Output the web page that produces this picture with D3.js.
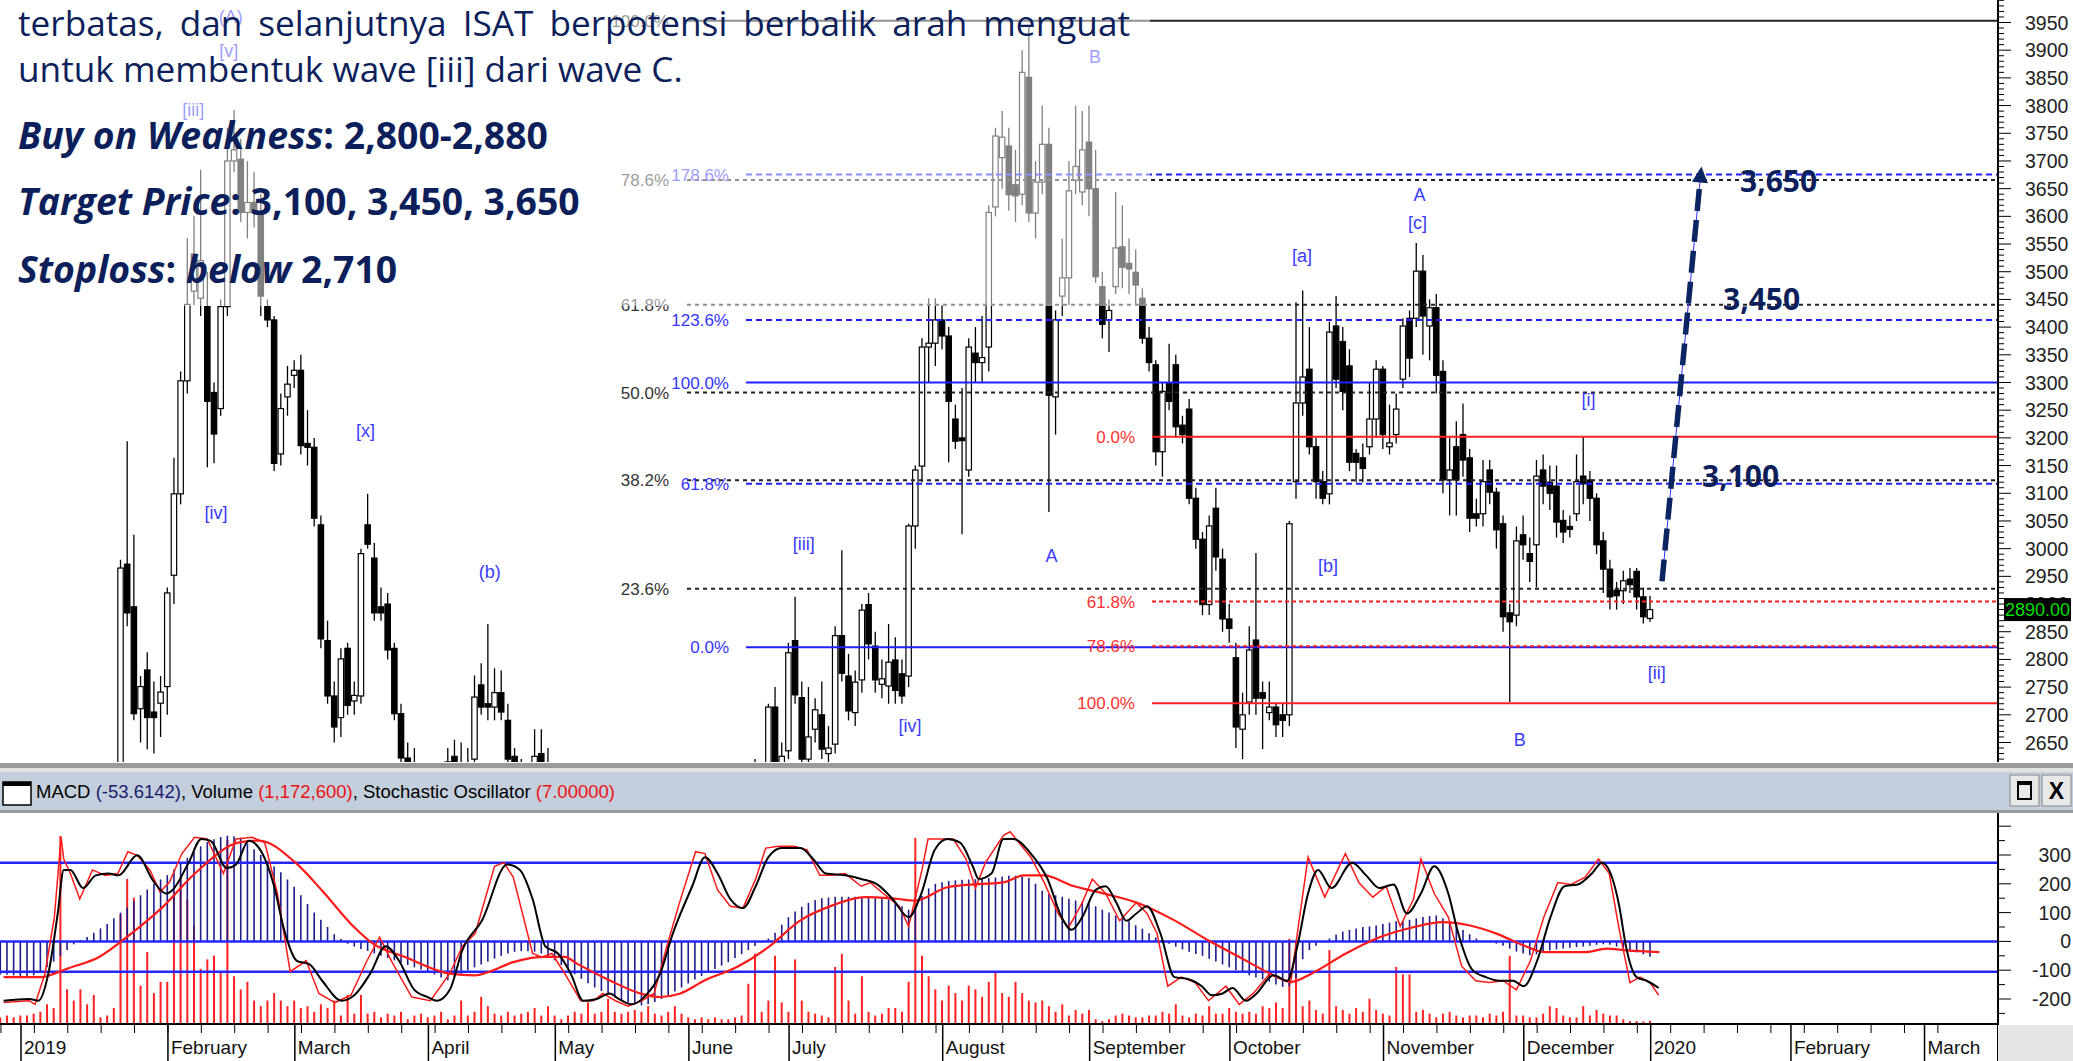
<!DOCTYPE html>
<html>
<head>
<meta charset="utf-8">
<script src="https://cdn.jsdelivr.net/npm/d3@7/dist/d3.min.js"></script>
<style>
  body { margin: 0; background: #fff; overflow: hidden; }
  svg text { font-family: "Liberation Sans", Arial, sans-serif; }
  svg text.note { font-family: "Open Sans", sans-serif; fill: #0c1f5b; }
</style>
</head>
<body>
<svg id="chart" width="2073" height="1061"></svg>
<script>
// ISAT daily, 2019
// [open, high, low, close] per trading day, index 0 = 2 Jan 2019
const ohlc = [
  [1800,1850,1760,1830],[1830,1900,1800,1880],[1880,1960,1850,1940],[1940,2050,1920,2030],[2030,2250,2010,2220],
  [2220,2400,2150,2380],[2380,2420,2250,2300],[2300,2350,2200,2250],[2250,2330,2220,2310],[2310,2400,2280,2380],
  [2380,2450,2320,2360],[2360,2420,2300,2400],[2400,2480,2350,2450],[2450,2520,2400,2480],[2480,2980,2450,2965],
  [2972,3194,2860,2884],[2895,3025,2690,2702],[2711,2770,2650,2751],[2781,2813,2638,2695],[2705,2760,2630,2695],
  [2721,2770,2660,2741],[2751,2930,2700,2920],
  // February
  [2952,3164,2900,3099],[3099,3320,3080,3303],[3303,3561,3280,3441],[3465,3600,3440,3532],[3452,3684,3420,3520],
  [3437,3500,3147,3266],[3282,3300,3154,3207],[3253,3450,3240,3437],[3437,3760,3420,3700],[3700,3792,3680,3720],
  [3703,3740,3590,3607],[3607,3700,3560,3625],[3625,3680,3580,3607],[3607,3640,3420,3456],[3437,3450,3400,3413],
  [3413,3420,3140,3154],[3171,3280,3150,3253],[3274,3330,3240,3297],[3313,3340,3290,3322],
  // March
  [3322,3350,3170,3186],[3190,3250,3150,3183],[3183,3200,3040,3055],[3043,3060,2820,2837],[2834,2870,2720,2734],
  [2734,2760,2650,2678],[2695,2820,2660,2801],[2820,2830,2700,2717],[2725,2760,2700,2735],[2734,3000,2720,2991],
  [3043,3099,3000,3008],[2983,3010,2870,2884],[2895,2930,2870,2884],[2900,2920,2800,2817],[2820,2830,2690,2702],
  [2702,2720,2610,2622],[2622,2650,2560,2580],[2580,2640,2540,2570],[2570,2600,2500,2520],[2520,2560,2470,2500],
  // April
  [2500,2550,2460,2530],[2530,2600,2500,2590],[2590,2640,2560,2615],[2625,2655,2590,2610],[2610,2650,2570,2590],
  [2590,2640,2560,2610],[2620,2771,2600,2732],[2754,2793,2700,2714],[2720,2864,2690,2714],[2714,2784,2690,2740],
  [2740,2780,2690,2705],[2690,2720,2600,2620],[2625,2640,2580,2600],[2600,2620,2550,2570],[2570,2600,2520,2590],
  [2590,2674,2570,2625],[2630,2674,2580,2600],[2600,2640,2540,2560],[2560,2590,2480,2500],
  // May
  [2500,2520,2420,2440],[2440,2470,2380,2400],[2400,2430,2330,2350],[2350,2380,2280,2300],[2300,2330,2240,2260],
  [2260,2300,2200,2220],[2220,2280,2180,2250],[2250,2290,2200,2230],[2230,2250,2150,2170],[2170,2200,2100,2120],
  [2120,2150,2050,2080],[2080,2120,2030,2100],[2100,2160,2080,2140],[2140,2200,2120,2180],[2180,2220,2140,2160],
  [2160,2240,2150,2230],[2230,2300,2200,2280],[2280,2350,2250,2330],[2330,2400,2300,2380],[2380,2420,2340,2360],
  // June
  [2360,2450,2350,2430],[2430,2500,2400,2480],[2480,2520,2420,2450],[2450,2480,2400,2420],[2420,2470,2400,2460],
  [2460,2520,2440,2500],[2500,2560,2470,2540],[2540,2580,2500,2520],[2520,2600,2510,2580],[2580,2620,2540,2560],
  [2560,2610,2530,2590],[2600,2720,2590,2714],[2714,2750,2600,2605],[2610,2650,2590,2625],[2635,2830,2620,2812],
  // July
  [2834,2913,2720,2736],[2731,2760,2600,2620],[2620,2750,2600,2660],[2674,2730,2650,2709],[2700,2760,2620,2638],
  [2630,2680,2610,2640],[2647,2860,2630,2843],[2843,2997,2760,2775],[2770,2810,2690,2707],[2704,2780,2680,2759],
  [2763,2900,2740,2889],[2899,2920,2800,2828],[2824,2850,2740,2763],[2755,2800,2730,2765],[2752,2864,2720,2795],
  [2799,2840,2720,2744],[2774,2800,2720,2734],[2770,3045,2750,3041],[3041,3150,3000,3142],[3149,3380,3120,3364],
  [3364,3452,3300,3371],[3371,3452,3330,3413],[3413,3440,3360,3384],
  // August
  [3384,3400,3156,3266],[3234,3260,3180,3194],[3200,3290,3026,3195],[3142,3380,3130,3364],[3353,3400,3300,3336],
  [3336,3420,3300,3345],[3364,3620,3320,3607],[3617,3760,3600,3745],[3706,3790,3650,3743],[3727,3760,3610,3639],
  [3657,3720,3590,3637],[3640,3900,3620,3860],[3851,3945,3590,3606],[3606,3700,3560,3662],[3662,3800,3640,3730],
  [3730,3760,3066,3277],[3274,3430,3206,3413],[3456,3560,3420,3489],[3489,3700,3440,3646],[3665,3800,3640,3690],
  [3644,3790,3620,3720],[3734,3800,3600,3650],
  // September
  [3650,3720,3480,3491],[3473,3500,3380,3405],[3413,3450,3355,3430],[3473,3644,3460,3543],[3545,3620,3470,3508],
  [3515,3560,3460,3505],[3499,3540,3440,3476],[3452,3470,3370,3380],[3380,3400,3320,3336],[3332,3340,3150,3175],
  [3175,3300,3130,3284],[3299,3370,3250,3266],[3332,3350,3200,3220],[3223,3240,3190,3206],[3252,3270,3080,3091],
  [3091,3110,3000,3017],[3017,3030,2880,2899],[2899,3060,2880,3041],[3073,3110,2960,2985],[2981,3000,2850,2873],
  [2873,2900,2830,2856],
  // October
  [2803,2830,2640,2678],[2674,2740,2620,2700],[2723,2860,2700,2817],[2835,2992,2700,2730],[2740,2760,2638,2730],
  [2704,2760,2690,2714],[2714,2720,2660,2682],[2700,2720,2660,2690],[2700,3050,2680,3045],[3121,3445,3090,3263],
  [3263,3466,3240,3310],[3324,3400,3170,3184],[3184,3200,3090,3121],[3121,3140,3080,3091],[3099,3410,3080,3391],
  [3402,3456,3290,3306],[3374,3400,3250,3284],[3330,3360,3140,3156],[3172,3180,3120,3156],[3164,3190,3120,3145],
  [3184,3300,3170,3234],[3234,3340,3200,3324],[3324,3330,3180,3206],
  // November
  [3184,3260,3170,3191],[3206,3280,3190,3252],[3306,3416,3290,3402],[3416,3430,3310,3344],[3416,3552,3400,3501],
  [3501,3530,3350,3420],[3402,3450,3340,3435],[3435,3460,3280,3313],[3320,3340,3100,3124],[3124,3200,3060,3142],
  [3184,3230,3060,3124],[3206,3262,3130,3160],[3164,3180,3030,3055],[3063,3090,3040,3055],[3063,3160,3040,3121],
  [3142,3160,3080,3102],[3102,3110,3000,3034],[3045,3060,2850,2877],[2884,2900,2723,2868],[2880,3040,2860,3014],
  [3025,3060,2980,3007],
  // December
  [2991,3020,2940,2977],[3007,3160,2930,3131],[3142,3170,3080,3113],[3120,3150,3070,3100],[3113,3150,3020,3048],
  [3051,3070,3010,3030],[3040,3060,3020,3035],[3063,3170,3050,3121],[3131,3202,3080,3117],[3124,3140,3050,3091],
  [3091,3100,2990,3007],[3014,3030,2920,2963],[2963,2980,2890,2913],[2925,2940,2890,2915],[2924,2960,2900,2942],
  [2945,2965,2920,2935],[2959,2965,2890,2913],[2913,2930,2865,2877],[2874,2915,2868,2890]
];

// indicator panel, one value per bar starting at index histStart
const histStart = -4;
const macdHist = [
  -115,-116,-118,-120,
  -120,-118,-110,-90,-70,-50,-30,-10,5,15,
  30,45,60,80,100,118,140,160,180,200,
  215,230,250,270,290,310,330,345,355,362,
  367,365,360,340,320,300,280,260,240,215,
  190,160,130,100,75,50,25,8,-8,-18,
  -26,-33,-42,-50,-58,-66,-74,-82,-90,-98,
  -106,-115,-125,-135,-125,-112,-100,-90,-80,-70,
  -60,-50,-42,-36,-34,-34,-36,-42,-52,-66,
  -82,-98,-114,-130,-145,-160,-172,-184,-195,-205,
  -212,-218,-222,-218,-210,-200,-188,-174,-160,-146,
  -132,-120,-108,-96,-84,-72,-58,-44,-30,-16,
  -4,10,30,58,84,104,120,134,144,150,
  152,155,155,155,155,154,152,150,150,146,
  138,122,110,122,158,184,200,205,210,212,
  214,215,216,218,220,222,225,228,228,225,
  220,200,176,165,160,155,148,142,138,134,
  122,110,100,90,80,70,56,44,28,14,
  4,-8,-18,-28,-36,-44,-50,-60,-70,-80,
  -90,-100,-110,-118,-125,-132,-140,-150,-158,-156,
  -128,-62,-30,-15,-5,10,24,34,40,45,
  50,52,55,60,65,70,72,75,80,85,
  88,90,80,70,55,40,25,10,2,-3,
  -8,-15,-25,-35,-42,-48,-45,-38,-32,-28,
  -25,-22,-20,-18,-15,-12,-10,-12,-18,-25,
  -32,-38,-45,-53.6
];
// volume in millions of shares
const volume = [
  3,4,3,4,
  4,5,6,10,8,100,18,12,18,10,
  15,3,4,8,58,77,67,20,38,16,
  22,22,70,78,66,52,29,34,36,27,
  98,25,18,22,12,9,12,16,12,9,
  12,8,9,6,10,8,12,4,15,5,
  15,5,6,3,5,4,6,2,4,5,
  3,4,6,2,4,12,4,6,14,9,
  5,4,6,4,5,6,8,4,9,4,
  2,4,6,5,11,5,6,13,6,5,
  6,7,6,9,5,4,6,9,5,3,
  2,3,2,3,2,2,3,4,21,37,
  6,12,36,11,6,34,12,6,5,4,
  3,30,37,12,5,25,6,4,5,8,
  8,6,22,99,36,25,18,12,20,16,
  12,20,18,14,22,27,16,14,22,16,
  12,11,12,9,6,10,4,7,5,7,
  2,1,2,4,5,4,3,3,4,4,
  6,5,10,4,3,5,4,9,5,5,
  8,6,5,6,5,9,8,11,8,45,
  40,9,12,7,5,39,9,7,5,8,
  6,13,7,5,4,30,26,26,6,7,
  5,3,5,6,4,3,4,4,3,5,
  4,6,36,4,4,3,3,5,9,8,
  4,3,3,9,4,7,5,4,4,2,
  1,1,0.8,1.17
];
// [bar index, value]
const macdSignal = [[-3.5,-124],[2.2,-124],[4.1,-112],[6,-95],[10.8,-54],[15.6,27],[20.3,119],[25.1,235],[31.8,344],[34.7,350],
  [40.4,269],[44.2,176],[49,49],[51.8,-8],[56.6,-54],[63.3,-112],[67.1,-118],[69,-107],[72.8,-72],[77.6,-54],[80.5,-54],
  [82.4,-78],[87.2,-135],[92,-182],[94.8,-193],[97.7,-182],[101.5,-135],[106.3,-89],[111,-20],[115.8,73],[120.6,125],
  [125.4,154],[130.1,148],[133,142],[137.8,188],[142.5,199],[146.2,205],[149.2,229],[152.3,229],[156.4,194],[161.5,165],
  [166.6,131],[171.8,73],[176.9,3],[182,-60],[187.2,-124],[189.2,-141],[192.3,-112],[197.4,-43],[202.6,15],[207.7,50],
  [211.8,67],[215.9,56],[220,27],[224.1,-14],[227.2,-37],[233.4,-37],[236.5,-25],[239.5,-31],[244.4,-37]];
const stochK = [[-3.5,4],[0.3,5],[1.7,4],[3.2,19],[4.6,52],[5.5,76],[6.5,76],[8.4,66],[10.3,73],[12.2,74],[13.7,73],[16.5,84],
  [18.9,70],[20.8,63],[21.8,65],[24.2,80],[26.1,93],[27.5,92],[29.9,77],[31.3,79],[33.2,92],[35.1,86],[37,67],[38.5,43],
  [40.4,26],[42.3,24],[44.2,15],[47.1,4],[49,7],[51.4,19],[53.7,34],[55.7,26],[58,10],[60,6],[61.4,4],[63.3,10],[65.2,32],
  [68.1,48],[71.9,79],[73.8,76],[75.7,60],[77.6,34],[79.5,30],[81.4,19],[83.3,4],[85.3,5],[87.2,8],[88.6,5],[90.5,2],
  [92.4,6],[94.8,19],[96.7,41],[99.6,67],[101.5,83],[103.4,74],[105.3,60],[107.2,55],[109.1,67],[111,83],[113,88],
  [115.8,88],[117.7,82],[119.6,74],[122.5,73],[124.9,71],[127.3,68],[129.6,60],[132,50],[133.9,63],[135.9,87],[137.8,93],
  [139.7,91],[141.6,78],[142.5,71],[144.4,74],[146.2,93],[147.7,93],[150.3,85],[152.8,71],[154.9,50],[156.4,43],[158,50],
  [160,65],[161.5,67],[163.1,58],[164.6,48],[166.1,52],[167.7,56],[169.7,41],[171.8,17],[173.8,16],[175.9,12],[177.4,7],
  [179,8],[180.5,11],[182.5,4],[184.1,8],[186.6,18],[188.7,15],[190.2,34],[191.8,63],[193.3,76],[195.3,66],[198.4,80],
  [200.5,73],[202.5,66],[204.6,68],[206.6,52],[208.7,63],[210.7,78],[212.8,63],[214.3,41],[216.4,21],[218.4,17],
  [220.5,15],[222.5,15],[224.1,12],[226.1,26],[228.1,50],[230.2,67],[232.2,68],[234.3,74],[235.8,80],[237.4,71],
  [238.4,56],[239.4,34],[241,17],[242.5,15],[244.3,11]];
const stochD = [[-3.5,3],[0.3,4],[1.2,2],[2.7,19],[4.1,50],[5.1,94],[5.5,82],[6.5,74],[7.9,60],[9.8,76],[11.7,73],[13.6,74],
  [15.1,86],[16.5,84],[18.4,76],[19.9,64],[21.3,69],[23.2,85],[25.1,94],[27,93],[29.4,74],[31.3,93],[33.7,94],[35.6,91],
  [37.5,63],[39.4,20],[41.8,26],[43.7,8],[46.1,3],[48.5,7],[50.9,26],[52.8,39],[54.7,25],[57.6,6],[60.4,4],[63.3,19],
  [65.2,34],[67.1,41],[70,78],[71.4,80],[72.8,72],[75.7,30],[77.1,28],[78.6,30],[80.5,19],[82.9,4],[84.8,4],[86.2,8],
  [88.1,4],[90,1],[92,4],[93.9,8],[95.8,34],[97.7,58],[100.1,86],[101.5,85],[103.4,65],[105.3,56],[107.2,55],[109.1,71],
  [110.6,88],[112.5,89],[114.9,89],[116.8,87],[118.7,73],[120.6,73],[122.5,74],[124.9,67],[126.3,69],[128.2,63],
  [130.6,56],[132,45],[134,76],[134.9,93],[136.8,93],[138.7,93],[140.6,82],[142,66],[143.5,80],[146.2,95],[147.2,97],
  [150.3,83],[152.3,69],[154.4,52],[155.9,44],[158,58],[159.5,71],[161.5,63],[163.6,48],[166.1,58],[167.7,52],[169.2,41],
  [170.8,12],[172.8,17],[174.9,14],[176.9,4],[179.5,12],[181.5,2],[183.6,8],[186.1,19],[189.2,14],[190.2,41],[191.8,83],
  [194.3,61],[197.4,85],[199.4,69],[201.5,61],[203.5,67],[205.6,45],[207.6,60],[208.7,82],[210.7,63],[212.8,50],
  [214.8,23],[216.9,15],[218.9,14],[221,15],[223,10],[225.1,26],[227.1,50],[229.2,69],[231.2,68],[233.3,72],[235.3,82],
  [236.9,74],[238.4,43],[240,14],[241.5,17],[243,14],[244.3,7]];

// axis labels
const monthTicks = [[0,"2019"],[22,"February"],[41,"March"],[61,"April"],[80,"May"],[100,"June"],[115,"July"],
  [138,"August"],[160,"September"],[181,"October"],[204,"November"],[225,"December"],[244,"2020"],[265,"February"],[285,"March"]];
const priceTicks = d3.range(2650, 3951, 50);
const indTicks = [300, 200, 100, 0, -100, -200];

// fibonacci sets: [price at 0%, price at 100%], levels drawn
const blackFib = [2611, 3953], blackLevels = [23.6, 38.2, 50.0, 61.8, 78.6, 100.0];
const blueFib = [2822, 3300], blueLevels = [0.0, 61.8, 100.0, 123.6, 178.6];
const redFib = [3202, 2721], redLevels = [0.0, 61.8, 78.6, 100.0];

// wave counts: [text, bar index, price]
const waves = [["(A)",30.5,3960],["[v]",30.2,3900],["[iii]",24.9,3792],["[iv]",28.3,3066],["[x]",50.7,3214],
  ["(b)",69.3,2958],["[iii]",116.3,3010],["[iv]",132.2,2681],["A",153.4,2987],["B",159.9,3888],["[a]",190.9,3530],
  ["A",208.5,3639],["[c]",208.2,3588],["[b]",194.8,2970],["[i]",233.8,3270],["[ii]",244,2777],["B",223.5,2656]];

const lastClose = 2890.00;
const targets = ["3,100", "3,450", "3,650"];
const arrowFrom = [244.8, 2941], arrowTo = [250.7, 3690];

// ---------------- drawing ----------------
const svg = d3.select("#chart");
const plotR = 1998, mainB = 762;

const x = d3.scaleLinear().domain([0, 243]).range([27, 1650]);
const y = d3.scaleLinear().domain([2650, 3950]).range([742.5, 22.5]);
const yM = d3.scaleLinear().domain([-200, 300]).range([999, 855]);
const yS = d3.scaleLinear().domain([0, 100]).range([1008, 826.3]);
const yV = d3.scaleLinear().domain([0, 100]).range([1023, 836]);

svg.append("rect").attr("width", 2073).attr("height", 1061).attr("fill", "#fff");
const defs = svg.append("defs");
defs.append("clipPath").attr("id", "clipMain").append("rect").attr("width", plotR).attr("height", mainB);
defs.append("clipPath").attr("id", "clipInd").append("rect").attr("y", 813).attr("width", plotR).attr("height", 210);

const main = svg.append("g").attr("clip-path", "url(#clipMain)");

// candles
const cg = main.append("g").selectAll("g").data(ohlc).join("g");
cg.append("line")
  .attr("x1", (d, i) => x(i)).attr("x2", (d, i) => x(i))
  .attr("y1", d => y(d[1])).attr("y2", d => y(d[2]))
  .attr("stroke", "#000").attr("stroke-width", 1.3);
cg.append("rect")
  .attr("x", (d, i) => x(i) - 2.7).attr("width", 5.4)
  .attr("y", d => y(Math.max(d[0], d[3])))
  .attr("height", d => Math.max(1, Math.abs(y(d[0]) - y(d[3]))))
  .attr("fill", d => d[3] >= d[0] ? "#fff" : "#000")
  .attr("stroke", "#000").attr("stroke-width", 1.2);

// fib retracements
function fib(range, levels, xStart, xLabel, lineColor, textColor, dash) {
  const g = main.append("g");
  levels.forEach(l => {
    const p = range[0] + (range[1] - range[0]) * l / 100;
    const solid = l === 0 || l === 100;
    g.append("line").attr("x1", xStart).attr("x2", plotR).attr("y1", y(p)).attr("y2", y(p))
      .attr("stroke", lineColor).attr("stroke-width", 2)
      .attr("stroke-dasharray", solid ? null : dash);
    g.append("text").attr("x", xLabel).attr("y", y(p)).attr("dy", "0.36em")
      .attr("text-anchor", "end").attr("font-size", 17).attr("fill", textColor)
      .text(l.toFixed(1) + "%");
  });
}
fib(blackFib, blackLevels, 687, 669, "#222", "#333", "4,4");
fib(blueFib, blueLevels, 746, 729, "#1f1fff", "#3535ff", "6,4");
fib(redFib, redLevels, 1152, 1135, "#ff2020", "#ff3030", "4,3");

// wave labels
main.append("g").selectAll("text").data(waves).join("text")
  .attr("x", d => x(d[1])).attr("y", d => y(d[2])).attr("dy", "0.36em")
  .attr("text-anchor", "middle").attr("font-size", 18).attr("fill", "#3a3aff")
  .text(d => d[0]);

// projection arrow
const a0 = [x(arrowFrom[0]), y(arrowFrom[1])], a1 = [x(arrowTo[0]), y(arrowTo[1])];
const len = Math.hypot(a1[0] - a0[0], a1[1] - a0[1]);
const ux = (a1[0] - a0[0]) / len, uy = (a1[1] - a0[1]) / len;
const aEnd = [a1[0] - ux * 16, a1[1] - uy * 16];
main.append("line").attr("x1", a0[0]).attr("y1", a0[1]).attr("x2", aEnd[0]).attr("y2", aEnd[1])
  .attr("stroke", "#3030ff").attr("stroke-width", 1);
main.append("line").attr("x1", a0[0]).attr("y1", a0[1]).attr("x2", aEnd[0]).attr("y2", aEnd[1])
  .attr("stroke", "#0b2462").attr("stroke-width", 5.5).attr("stroke-dasharray", "22,9");
main.append("polygon")
  .attr("points", [a1, [aEnd[0] - uy * 8, aEnd[1] + ux * 8], [aEnd[0] + uy * 8, aEnd[1] - ux * 8]].map(p => p.join(",")).join(" "))
  .attr("fill", "#0b2462");

// target labels
const targetPos = [[1702, 487], [1723, 310], [1740, 192]];
main.append("g").selectAll("text").data(targets).join("text")
  .attr("x", (d, k) => targetPos[k][0]).attr("y", (d, k) => targetPos[k][1])
  .attr("class", "note").attr("font-size", 30).attr("font-weight", 700).text(d => d);

// faded note box
main.append("rect").attr("width", 1150).attr("height", 306).attr("fill", "#fff").attr("opacity", 0.5);

const notes = main.append("g");
const para2 = notes.append("text").attr("class", "note").attr("x", 18).attr("y", 82).attr("font-size", 34)
  .text("untuk membentuk wave [iii] dari wave C.");
const paraSize = 34 * 665 / para2.node().getComputedTextLength();
para2.attr("font-size", paraSize);
// first line justified
const words = "terbatas, dan selanjutnya ISAT berpotensi berbalik arah menguat".split(" ");
const wn = words.map(w => notes.append("text").attr("class", "note").attr("y", 36).attr("font-size", paraSize).text(w));
const ww = wn.map(n => n.node().getComputedTextLength());
const gap = (1130 - 18 - d3.sum(ww)) / (words.length - 1);
let cx = 18;
wn.forEach((n, k) => { n.attr("x", cx); cx += ww[k] + gap; });

const plan = [
  [["Buy on Weakness", true], [": 2,800-2,880", false]],
  [["Target Price", true], [": 3,100, 3,450, 3,650", false]],
  [["Stoploss", true], [": ", false], ["below", true], [" 2,710", false]]
];
const planY = [149, 215, 283];
const planT = plan.map((parts, k) => {
  const t = notes.append("text").attr("class", "note").attr("x", 18).attr("y", planY[k])
    .attr("font-size", 34).attr("font-weight", 700);
  parts.forEach(p => t.append("tspan").attr("font-style", p[1] ? "italic" : "normal").text(p[0]));
  return t;
});
const planSize = 34 * 530 / planT[0].node().getComputedTextLength();
planT.forEach(t => t.attr("font-size", planSize));

// price axis
svg.append("line").attr("x1", plotR).attr("x2", plotR).attr("y1", 0).attr("y2", mainB)
  .attr("stroke", "#000").attr("stroke-width", 2);
svg.append("g").selectAll("line").data(d3.range(2620, 3991, 10)).join("line")
  .attr("x1", plotR).attr("x2", d => plotR + (d % 50 === 0 ? 13 : 6))
  .attr("y1", d => y(d)).attr("y2", d => y(d)).attr("stroke", "#000").attr("stroke-width", 1);
svg.append("g").selectAll("text").data(priceTicks).join("text")
  .attr("x", 2025).attr("y", d => y(d)).attr("dy", "0.36em").attr("font-size", 19.5).attr("fill", "#222")
  .text(d => d);
svg.append("rect").attr("x", 2004).attr("y", y(lastClose) - 11.5).attr("width", 67).attr("height", 23).attr("fill", "#000");
svg.append("text").attr("x", 2037.5).attr("y", y(lastClose)).attr("dy", "0.36em").attr("text-anchor", "middle")
  .attr("font-size", 18).attr("fill", "#00dd00").text(lastClose.toFixed(2));

// panel separator and header
svg.append("rect").attr("y", 763).attr("width", 2073).attr("height", 5).attr("fill", "#9a9a9a");
svg.append("rect").attr("y", 768).attr("width", 2073).attr("height", 4).attr("fill", "#e2e2e2");
svg.append("rect").attr("y", 772).attr("width", 2073).attr("height", 38).attr("fill", "#c3cfdc");
svg.append("rect").attr("y", 810).attr("width", 2073).attr("height", 3).attr("fill", "#9a9a9a");
svg.append("rect").attr("x", 3).attr("y", 782).attr("width", 28).attr("height", 23).attr("fill", "#fff").attr("stroke", "#000").attr("stroke-width", 1.5);
svg.append("rect").attr("x", 3).attr("y", 782).attr("width", 28).attr("height", 4).attr("fill", "#000");
const head = svg.append("text").attr("x", 36).attr("y", 798).attr("font-size", 18.5);
[["MACD ", "#000"], ["(-53.6142)", "#1a1a70"], [", Volume ", "#000"], ["(1,172,600)", "#ee1111"],
 [", Stochastic Oscillator ", "#000"], ["(7.00000)", "#ee1111"]]
  .forEach(p => head.append("tspan").attr("fill", p[1]).text(p[0]));
[[2010, "max"], [2042, "close"]].forEach(b => {
  svg.append("rect").attr("x", b[0]).attr("y", 775).attr("width", 29).attr("height", 31)
    .attr("fill", "#e8e8e8").attr("stroke", "#888").attr("stroke-width", 1);
  if (b[1] === "max") {
    svg.append("rect").attr("x", b[0] + 8).attr("y", 782).attr("width", 13).attr("height", 17)
      .attr("fill", "none").attr("stroke", "#000").attr("stroke-width", 2);
    svg.append("rect").attr("x", b[0] + 8).attr("y", 782).attr("width", 13).attr("height", 3).attr("fill", "#000");
  } else {
    svg.append("text").attr("x", b[0] + 14.5).attr("y", 799).attr("text-anchor", "middle")
      .attr("font-size", 23).attr("font-weight", 700).text("X");
  }
});

// indicator panel
const ind = svg.append("g").attr("clip-path", "url(#clipInd)");
ind.append("g").selectAll("line").data(volume).join("line")
  .attr("x1", (d, k) => x(histStart + k)).attr("x2", (d, k) => x(histStart + k))
  .attr("y1", yV(0)).attr("y2", d => yV(d)).attr("stroke", "#ff2020").attr("stroke-width", 2);
ind.append("g").selectAll("line").data(macdHist).join("line")
  .attr("x1", (d, k) => x(histStart + k)).attr("x2", (d, k) => x(histStart + k))
  .attr("y1", yM(0)).attr("y2", d => yM(d)).attr("stroke", "#1c1c8c").attr("stroke-width", 1.6);
[yS(80), yM(0), yS(20)].forEach(v => {
  ind.append("line").attr("x1", 0).attr("x2", plotR).attr("y1", v).attr("y2", v)
    .attr("stroke", "#2424ff").attr("stroke-width", 2.5);
});
const lineOf = sc => d3.line().x(d => x(d[0])).y(d => sc(d[1]));
ind.append("path").datum(macdSignal).attr("d", lineOf(yM).curve(d3.curveMonotoneX))
  .attr("fill", "none").attr("stroke", "#ff1a1a").attr("stroke-width", 2.2);
ind.append("path").datum(stochD).attr("d", lineOf(yS))
  .attr("fill", "none").attr("stroke", "#ff1a1a").attr("stroke-width", 1.5);
ind.append("path").datum(stochK).attr("d", lineOf(yS).curve(d3.curveMonotoneX))
  .attr("fill", "none").attr("stroke", "#000").attr("stroke-width", 2);

// indicator axis
svg.append("line").attr("x1", plotR).attr("x2", plotR).attr("y1", 813).attr("y2", 1061)
  .attr("stroke", "#000").attr("stroke-width", 2);
svg.append("g").selectAll("line").data(d3.range(-250, 401, 50)).join("line")
  .attr("x1", plotR).attr("x2", d => plotR + (d % 100 === 0 ? 13 : 7))
  .attr("y1", d => yM(d)).attr("y2", d => yM(d)).attr("stroke", "#000").attr("stroke-width", 1);
svg.append("g").selectAll("text").data(indTicks).join("text")
  .attr("x", 2071).attr("y", d => yM(d)).attr("dy", "0.36em").attr("text-anchor", "end")
  .attr("font-size", 19.5).attr("fill", "#222").text(d => d);

// time axis
svg.append("rect").attr("x", plotR).attr("y", 1025).attr("width", 75).attr("height", 36).attr("fill", "#e6e6e6");
svg.append("line").attr("x1", 0).attr("x2", plotR).attr("y1", 1024).attr("y2", 1024)
  .attr("stroke", "#000").attr("stroke-width", 2);
svg.append("g").selectAll("line").data(d3.range(-3, 290, 5)).join("line")
  .attr("x1", d => x(d) - 6).attr("x2", d => x(d) - 6).attr("y1", 1024).attr("y2", 1033)
  .attr("stroke", "#000").attr("stroke-width", 1);
const mt = svg.append("g").selectAll("g").data(monthTicks).join("g")
  .attr("transform", d => `translate(${x(d[0]) - 6},0)`);
mt.append("line").attr("y1", 1024).attr("y2", 1061).attr("stroke", "#000").attr("stroke-width", 1.5);
mt.append("text").attr("x", 3).attr("y", 1054).attr("font-size", 19).attr("fill", "#111").text(d => d[1]);
</script>
</body>
</html>
